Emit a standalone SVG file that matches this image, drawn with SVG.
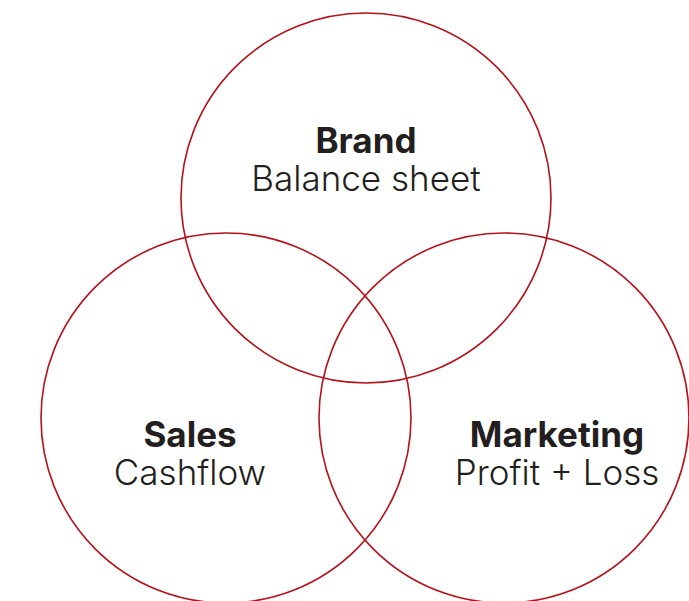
<svg xmlns="http://www.w3.org/2000/svg" width="689" height="601" viewBox="0 0 689 601">
<style>
.c{fill:none;stroke:#b5121b;stroke-width:1.6}
.t{font-family:Inter,"Liberation Sans",sans-serif;font-size:35px;fill:#231f20;text-anchor:middle}
.b{font-weight:700}
.l{font-weight:300}
</style>
<rect width="689" height="601" fill="#fff"/>
<g id="brand">
<circle class="c" cx="366" cy="198" r="185"/>
<text class="t b" x="366" y="153">Brand</text>
<text class="t l" x="366" y="191">Balance sheet</text>
</g>
<g id="sales">
<circle class="c" cx="226" cy="418" r="185"/>
<text class="t b" x="190" y="447">Sales</text>
<text class="t l" x="190" y="485">Cashflow</text>
</g>
<g id="marketing">
<circle class="c" cx="504" cy="418" r="185"/>
<text class="t b" x="557" y="447">Marketing</text>
<text class="t l" x="557" y="485">Profit + Loss</text>
</g>
</svg>
